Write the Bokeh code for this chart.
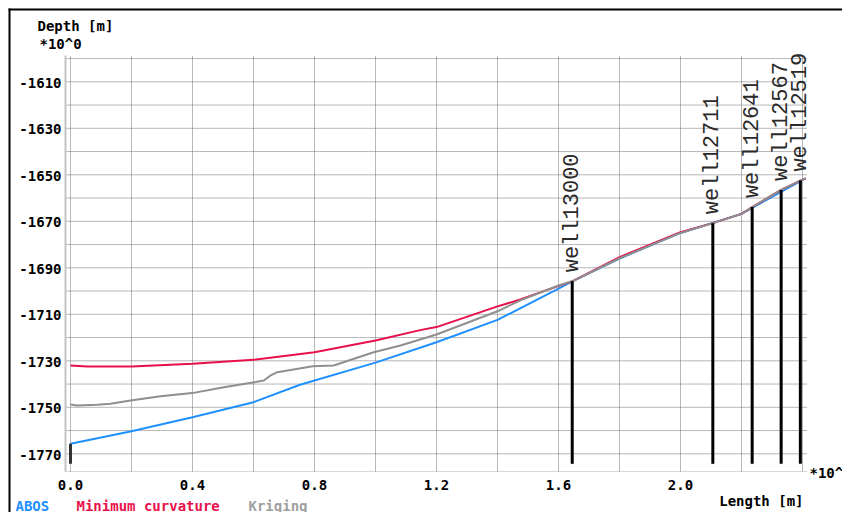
from math import pi
from bokeh.plotting import figure
from bokeh.models import Range1d, ColumnDataSource
from bokeh.core.properties import value
from bokeh.embed import file_html
from bokeh.resources import INLINE

# ---------------- data ----------------
abos_len = [0.0, 0.2, 0.4, 0.6, 0.75, 1.0, 1.2, 1.4, 1.6, 1.645, 1.8, 2.0, 2.2, 2.41]
abos_depth = [-1765.7, -1760.3, -1754.3, -1747.8, -1740.4, -1730.8, -1722.0, -1712.4,
              -1699.0, -1695.8, -1686.0, -1675.0, -1666.8, -1651.5]

mc_len = [0.0, 0.055, 0.2, 0.4, 0.6, 0.8, 1.0, 1.15, 1.2, 1.4, 1.475, 1.62, 1.645,
          1.8, 2.0, 2.106, 2.2, 2.235, 2.33, 2.393, 2.41]
mc_depth = [-1732.0, -1732.4, -1732.4, -1731.3, -1729.6, -1726.3, -1721.3, -1716.7,
            -1715.5, -1706.6, -1703.6, -1696.9, -1695.8, -1685.4, -1674.7, -1670.8,
            -1666.8, -1663.9, -1656.5, -1652.5, -1651.5]

kr_len = [0.0, 0.022, 0.087, 0.131, 0.197, 0.295, 0.399, 0.503, 0.598, 0.634, 0.656,
          0.678, 0.794, 0.863, 0.994, 1.082, 1.2, 1.4, 1.475, 1.6, 1.645, 1.8, 2.0,
          2.106, 2.2, 2.235, 2.33, 2.393, 2.41]
kr_depth = [-1748.8, -1749.2, -1748.9, -1748.5, -1747.1, -1745.2, -1743.9, -1741.4,
            -1739.3, -1738.5, -1736.3, -1734.9, -1732.3, -1732.0, -1726.3, -1723.4,
            -1718.7, -1708.7, -1704.0, -1697.6, -1695.8, -1685.9, -1675.0, -1670.8,
            -1666.8, -1663.9, -1656.5, -1652.5, -1651.5]

well_names = ["well13000", "well12711", "well12641", "well12567", "well12519"]
well_len = [1.645, 2.106, 2.235, 2.330, 2.393]
well_top = [-1695.8, -1670.8, -1663.9, -1656.5, -1652.5]
well_bottom = -1774.3
start_well_len = [0.0]
start_well_top = [-1765.7]

x_ticks = [0.0, 0.4, 0.8, 1.2, 1.6, 2.0]
x_tick_labels = ["0.0", "0.4", "0.8", "1.2", "1.6", "2.0"]
x_grid = [0.0, 0.2, 0.4, 0.6, 0.8, 1.0, 1.2, 1.4, 1.6, 1.8, 2.0, 2.2, 2.4]
y_ticks = [-1770, -1750, -1730, -1710, -1690, -1670, -1650, -1630, -1610]
y_tick_labels = ["-1770", "-1750", "-1730", "-1710", "-1690", "-1670", "-1650",
                 "-1630", "-1610"]
y_grid = [-1770, -1760, -1750, -1740, -1730, -1720, -1710, -1700, -1690, -1680,
          -1670, -1660, -1650, -1640, -1630, -1620, -1610, -1600]

y_title = "Depth [m]"
y_mult = "*10^0"
x_title = "Length [m]"
x_mult = "*10^3"
series_names = ["ABOS", "Minimum curvature", "Kriging"]
series_colors = ["#1e90ff", "#e8104a", "#8f8f8f"]
legend_colors = ["#1e90ff", "#e8104a", "#a0a0a0"]

# ---------------- layout (page pixels) ----------------
PX0, PX_PER = 70.0, 305.0          # x=0 at page px 70, 305 px per unit
PY0, PY_PER = 267.3, 2.325         # depth -1690 at page py 267.3
CX0, CY0, CX1, CY1 = 0, 0, 842, 512  # canvas on page
FL, FR, FT, FB = 65, 807, 55, 471    # plot area on page


def px2x(px):
    return (px - PX0) / PX_PER


def py2y(py):
    return -1690 - (py - PY0) / PY_PER


FONT = "DejaVu Sans Mono"
WELL_FONT = "Liberation Mono"

p = figure(width=CX1 - CX0, height=CY1 - CY0, output_backend="svg",
           toolbar_location=None, x_axis_type=None, y_axis_type=None,
           x_range=Range1d(px2x(CX0), px2x(CX1)),
           y_range=Range1d(py2y(CY1), py2y(CY0)),
           min_border=0, min_border_left=0, min_border_right=0,
           min_border_top=0, min_border_bottom=0)
p.outline_line_color = None
p.background_fill_color = "white"
p.border_fill_color = "white"

# outer frame (top and left edges visible in the window)
p.segment(x0=[px2x(8), px2x(9)], y0=[py2y(9), py2y(8)],
          x1=[px2x(CX1), px2x(9)], y1=[py2y(9), py2y(CY1)],
          line_color="black", line_width=2)

# grid
top_v, bot_v = py2y(FT), py2y(FB)
left_v, right_v = px2x(FL), px2x(FR)
p.segment(x0=x_grid, y0=[bot_v] * len(x_grid), x1=x_grid, y1=[top_v] * len(x_grid),
          line_color="#6e6e6e", line_width=1, line_dash="1 1")
p.segment(x0=[left_v] * len(y_grid), y0=y_grid, x1=[right_v] * len(y_grid), y1=y_grid,
          line_color="#6e6e6e", line_width=1, line_dash="1 1")

# axis lines
p.segment(x0=[left_v], y0=[bot_v], x1=[left_v], y1=[top_v],
          line_color="#c4c4c4", line_width=2)
p.segment(x0=[left_v], y0=[bot_v], x1=[right_v], y1=[bot_v],
          line_color="#b0b0b0", line_width=1, line_dash="1 1")

# tick labels
p.text(x=x_ticks, y=[py2y(484)] * len(x_ticks), text=x_tick_labels,
       text_align="center", text_baseline="middle", text_font=value(FONT),
       text_font_style="bold", text_font_size="14px", text_color="black")
p.text(x=[px2x(61)] * len(y_ticks), y=y_ticks, text=y_tick_labels, y_offset=1,
       text_align="right", text_baseline="middle", text_font=value(FONT),
       text_font_style="bold", text_font_size="14px", text_color="black")

# ---------------- series ----------------
p.line(abos_len, abos_depth, line_color=series_colors[0], line_width=2)
p.line(mc_len, mc_depth, line_color=series_colors[1], line_width=2)
p.line(kr_len, kr_depth, line_color=series_colors[2], line_width=2)

# ---------------- wells ----------------
p.segment(x0=well_len, y0=well_top, x1=well_len, y1=[well_bottom] * len(well_len),
          line_color="black", line_width=3)
p.segment(x0=start_well_len, y0=start_well_top, x1=start_well_len, y1=[well_bottom],
          line_color="#333333", line_width=3)

src = ColumnDataSource(dict(x=well_len, y=well_top, t=well_names))
p.text(x="x", y="y", text="t", source=src, angle=pi / 2, text_align="left",
       text_baseline="middle", y_offset=-9, text_font=value(WELL_FONT),
       text_font_size="22px", text_color="#2a2a2a")

# ---------------- titles and legend ----------------
def lab(txt, px, py, color="black", align="left"):
    p.text(x=[px2x(px)], y=[py2y(py)], text=[txt], text_font=value(FONT),
           text_font_style="bold", text_font_size="14px", text_color=color,
           text_align=align, text_baseline="middle")


lab(y_title, 37, 25.3)
lab(y_mult, 39, 43.5)
lab(x_title, 803, 500.5, align="right")
lab(x_mult, 809, 472.5)
lab(series_names[0], 15, 505.5, color=legend_colors[0])
lab(series_names[1], 76, 505.5, color=legend_colors[1])
lab(series_names[2], 248, 505.5, color=legend_colors[2])

open("out.html", "w").write(file_html(p, INLINE))
